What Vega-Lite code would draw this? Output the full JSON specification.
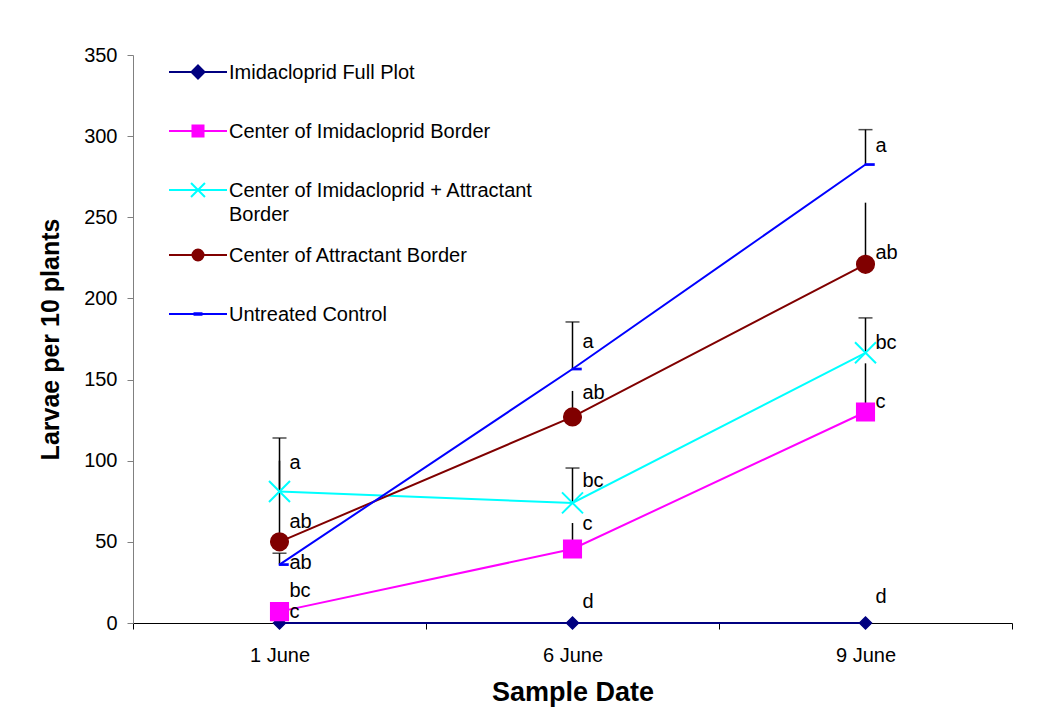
{
  "$schema": "https://vega.github.io/schema/vega-lite/v6.json",
  "width": 879,
  "height": 568,
  "autosize": {"type": "none"},
  "padding": {"left": 133, "top": 55, "right": 36, "bottom": 94},
  "background": "white",
  "config": {"font": "Liberation Sans", "view": {"stroke": null}},
  "data": {
    "values": [
      {"series": "Imidacloprid Full Plot", "date": "1 June", "value": 0, "hi": null, "cap": false, "label": "c", "labelY": 7},
      {"series": "Center of Imidacloprid Border", "date": "1 June", "value": 7, "hi": null, "cap": false, "label": "bc", "labelY": 20},
      {"series": "Center of Imidacloprid + Attractant Border", "date": "1 June", "value": 81, "hi": 114, "cap": true, "label": "a", "labelY": 98.5},
      {"series": "Center of Attractant Border", "date": "1 June", "value": 50, "hi": 100, "cap": false, "label": "ab", "labelY": 62},
      {"series": "Untreated Control", "date": "1 June", "value": 36, "hi": 43, "cap": true, "label": "ab", "labelY": 37},
      {"series": "Imidacloprid Full Plot", "date": "6 June", "value": 0, "hi": null, "cap": false, "label": "d", "labelY": 13},
      {"series": "Center of Imidacloprid Border", "date": "6 June", "value": 45.6, "hi": 61.6, "cap": false, "label": "c", "labelY": 61},
      {"series": "Center of Imidacloprid + Attractant Border", "date": "6 June", "value": 74, "hi": 95.5, "cap": true, "label": "bc", "labelY": 87.5},
      {"series": "Center of Attractant Border", "date": "6 June", "value": 127, "hi": 143, "cap": false, "label": "ab", "labelY": 142},
      {"series": "Untreated Control", "date": "6 June", "value": 156.5, "hi": 185.5, "cap": true, "label": "a", "labelY": 173},
      {"series": "Imidacloprid Full Plot", "date": "9 June", "value": 0, "hi": null, "cap": false, "label": "d", "labelY": 16},
      {"series": "Center of Imidacloprid Border", "date": "9 June", "value": 130, "hi": 160, "cap": false, "label": "c", "labelY": 136},
      {"series": "Center of Imidacloprid + Attractant Border", "date": "9 June", "value": 166.5, "hi": 188, "cap": true, "label": "bc", "labelY": 172.5},
      {"series": "Center of Attractant Border", "date": "9 June", "value": 221, "hi": 259, "cap": false, "label": "ab", "labelY": 228},
      {"series": "Untreated Control", "date": "9 June", "value": 282.5, "hi": 304, "cap": true, "label": "a", "labelY": 294}
    ]
  },
  "encoding": {
    "x": {
      "field": "date",
      "type": "ordinal",
      "sort": ["1 June", "6 June", "9 June"],
      "scale": {"paddingInner": 0, "paddingOuter": 0},
      "axis": {
        "title": "Sample Date",
        "titleFont": "Liberation Sans",
        "titleFontSize": 27,
        "titleFontWeight": "bold",
        "titleColor": "black",
        "titlePadding": 14,
        "labelFont": "Liberation Sans",
        "labelFontSize": 20,
        "labelColor": "black",
        "labelAngle": 0,
        "labelPadding": 16,
        "tickBand": "extent",
        "tickSize": 6,
        "tickColor": "black",
        "domainColor": "black",
        "domainWidth": 1,
        "grid": false
      }
    },
    "y": {"type": "quantitative", "title": "Larvae per 10 plants", "scale": {"domain": [0, 350], "nice": false}}
  },
  "layer": [
    {
      "transform": [{"filter": "datum.hi != null"}],
      "mark": {"type": "rule", "color": "black", "strokeWidth": 1.5},
      "encoding": {
        "y": {"field": "value", "type": "quantitative", "title": "Larvae per 10 plants", "scale": {"domain": [0, 350], "nice": false},
          "axis": {
            "values": [0, 50, 100, 150, 200, 250, 300, 350],
            "titleFont": "Liberation Sans",
            "titleFontSize": 25,
            "titleFontWeight": "bold",
            "titleColor": "black",
            "titlePadding": 20,
            "labelFont": "Liberation Sans",
            "labelFontSize": 20,
            "labelColor": "black",
            "labelPadding": 10,
            "tickSize": 6,
            "tickColor": "#808080",
            "domainColor": "#808080",
            "grid": false
          }
        },
        "y2": {"field": "hi"}
      }
    },
    {
      "transform": [{"filter": "datum.cap"}],
      "mark": {"type": "tick", "color": "black", "size": 14, "thickness": 1.5},
      "encoding": {
        "y": {"field": "hi", "type": "quantitative", "title": "Larvae per 10 plants", "scale": {"domain": [0, 350], "nice": false}}
      }
    },
    {
      "mark": {"type": "line", "strokeWidth": 2},
      "encoding": {
        "y": {"field": "value", "type": "quantitative", "title": "Larvae per 10 plants", "scale": {"domain": [0, 350], "nice": false}},
        "color": {
          "field": "series",
          "type": "nominal",
          "scale": {
            "domain": ["Imidacloprid Full Plot", "Center of Imidacloprid Border", "Center of Imidacloprid + Attractant Border", "Center of Attractant Border", "Untreated Control"],
            "range": ["#000080", "#FF00FF", "#00FFFF", "#800000", "#0000FF"]
          },
          "legend": {
            "title": null,
            "orient": "none",
            "legendX": 35,
            "legendY": -13,
            "padding": 0,
            "symbolSize": 3364,
            "symbolStrokeWidth": 2,
            "labelFont": "Liberation Sans",
            "labelFontSize": 20,
            "labelColor": "black",
            "labelOffset": 1,
            "labelLimit": 0,
            "rowPadding": 0,
            "labelBaseline": "alphabetic",
            "labelExpr": "datum.label == 'Center of Imidacloprid + Attractant Border' ? ['Center of Imidacloprid + Attractant', 'Border'] : datum.label",
            "encode": {
              "symbols": {
                "update": {
                  "shape": {"signal": "datum.value == 'Imidacloprid Full Plot' ? 'M0,-0.85L0,-0.85M0,0.85L0,0.85M-1,0H1M0,-0.224L0.224,0L0,0.224L-0.224,0Z' : datum.value == 'Center of Imidacloprid Border' ? 'M0,-0.85L0,-0.85M0,0.85L0,0.85M-1,0H1M-0.19,-0.19H0.19V0.19H-0.19Z' : datum.value == 'Center of Imidacloprid + Attractant Border' ? 'M0,-0.85L0,-0.85M0,0.85L0,0.85M-1,0H1M-0.24,-0.24L0.24,0.24M-0.24,0.24L0.24,-0.24' : datum.value == 'Center of Attractant Border' ? 'M0,-0.85L0,-0.85M0,0.85L0,0.85M-1,0H1M-0.19,0A0.19,0.19,0,1,0,0.19,0A0.19,0.19,0,1,0,-0.19,0Z' : 'M0,-0.85L0,-0.85M0,0.85L0,0.85M-1,0H1M-0.12,-0.03H0.12V0.03H-0.12Z'"},
                  "fill": {"scale": "color", "field": "value"},
                  "stroke": {"scale": "color", "field": "value"},
                  "strokeWidth": {"value": 2},
                  "opacity": {"value": 1},
                  "fillOpacity": {"value": 1}
                }
              },
              "labels": {
                "update": {
                  "dy": {"value": 7},
                  "lineHeight": {"value": 24}
                }
              }
            }
          }
        }
      }
    },
    {
      "transform": [{"filter": {"field": "series", "equal": "Imidacloprid Full Plot"}}],
      "mark": {"type": "point", "shape": "M0,-0.6L0.6,0L0,0.6L-0.6,0Z", "filled": true, "size": 400, "color": "#000080", "stroke": "#000080", "strokeWidth": 1.5, "opacity": 1},
      "encoding": {
        "y": {"field": "value", "type": "quantitative", "title": "Larvae per 10 plants", "scale": {"domain": [0, 350], "nice": false}}
      }
    },
    {
      "transform": [{"filter": {"field": "series", "equal": "Center of Imidacloprid Border"}}],
      "mark": {"type": "point", "shape": "M-0.88,-0.88H0.88V0.88H-0.88Z", "filled": true, "size": 400, "color": "#FF00FF", "stroke": "#FF00FF", "strokeWidth": 1.5, "opacity": 1},
      "encoding": {
        "y": {"field": "value", "type": "quantitative", "title": "Larvae per 10 plants", "scale": {"domain": [0, 350], "nice": false}}
      }
    },
    {
      "transform": [{"filter": {"field": "series", "equal": "Center of Imidacloprid + Attractant Border"}}],
      "mark": {"type": "point", "shape": "M-1.05,-1.05L1.05,1.05M-1.05,1.05L1.05,-1.05", "filled": false, "size": 400, "stroke": "#00FFFF", "strokeWidth": 2, "opacity": 1},
      "encoding": {
        "y": {"field": "value", "type": "quantitative", "title": "Larvae per 10 plants", "scale": {"domain": [0, 350], "nice": false}}
      }
    },
    {
      "transform": [{"filter": {"field": "series", "equal": "Center of Attractant Border"}}],
      "mark": {"type": "point", "shape": "M-0.88,0A0.88,0.88,0,1,0,0.88,0A0.88,0.88,0,1,0,-0.88,0Z", "filled": true, "size": 400, "color": "#800000", "stroke": "#800000", "strokeWidth": 1.5, "opacity": 1},
      "encoding": {
        "y": {"field": "value", "type": "quantitative", "title": "Larvae per 10 plants", "scale": {"domain": [0, 350], "nice": false}}
      }
    },
    {
      "transform": [{"filter": {"field": "series", "equal": "Untreated Control"}}],
      "mark": {"type": "point", "shape": "M0,-0.06H0.85V0.06H0Z", "filled": true, "size": 400, "color": "#0000FF", "stroke": "#0000FF", "strokeWidth": 1.5, "opacity": 1},
      "encoding": {
        "y": {"field": "value", "type": "quantitative", "title": "Larvae per 10 plants", "scale": {"domain": [0, 350], "nice": false}}
      }
    },
    {
      "mark": {"type": "text", "align": "left", "baseline": "middle", "dx": 10, "fontSize": 20, "font": "Liberation Sans", "color": "black"},
      "encoding": {
        "y": {"field": "labelY", "type": "quantitative", "title": "Larvae per 10 plants", "scale": {"domain": [0, 350], "nice": false}},
        "text": {"field": "label"}
      }
    }
  ]
}
